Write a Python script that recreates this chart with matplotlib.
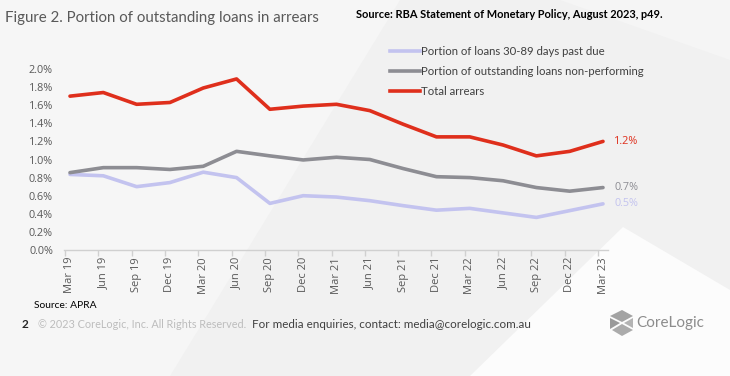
import matplotlib
matplotlib.use("Agg")
import matplotlib.pyplot as plt
from matplotlib.patches import Polygon
from matplotlib.lines import Line2D

quarters = ["Mar 19", "Jun 19", "Sep 19", "Dec 19", "Mar 20", "Jun 20", "Sep 20", "Dec 20",
            "Mar 21", "Jun 21", "Sep 21", "Dec 21", "Mar 22", "Jun 22", "Sep 22", "Dec 22", "Mar 23"]
past_due_30_89 = [0.835, 0.82, 0.70, 0.745, 0.86, 0.80, 0.515, 0.60, 0.585, 0.545, 0.49,
                  0.44, 0.46, 0.41, 0.36, 0.435, 0.51]
non_performing = [0.855, 0.91, 0.91, 0.89, 0.925, 1.09, 1.04, 0.995, 1.025, 1.00, 0.90,
                  0.81, 0.80, 0.765, 0.69, 0.65, 0.69]
total_arrears = [1.70, 1.74, 1.61, 1.63, 1.79, 1.89, 1.555, 1.59, 1.61, 1.54, 1.39,
                 1.25, 1.25, 1.16, 1.04, 1.09, 1.20]
y_ticks = [0.0, 0.2, 0.4, 0.6, 0.8, 1.0, 1.2, 1.4, 1.6, 1.8, 2.0]

RED = "#df2f1c"
GREY = "#8d8d93"
LAVENDER = "#c3c3ef"
SANS = ["Lato", "DejaVu Sans"]
W, H = 730, 376


def fx(px):
    return px / W


def fy(py):
    return 1 - py / H


fig = plt.figure(figsize=(7.3, 3.76), dpi=100)
fig.patch.set_facecolor("#f1f1f1")

# background shading (subtle slide artwork)
for pts, col in [
    ([(0, 0), (400, 0), (170, 376), (0, 376)], "#f6f6f6"),
    ([(623, 227), (730, 290), (730, 376), (470, 376)], "#fcfcfc"),
    ([(560, 0), (730, 0), (730, 60)], "#f5f5f5"),
]:
    fig.patches.append(Polygon([(fx(x), fy(y)) for x, y in pts], closed=True,
                               transform=fig.transFigure, facecolor=col,
                               edgecolor="none", zorder=-5))

ax = fig.add_axes([fx(64), fy(250), fx(608) - fx(64), fy(69) - fy(250)])
ax.set_facecolor("none")
ax.set_zorder(2)

x = list(range(len(quarters)))
ax.plot(x, past_due_30_89, color=LAVENDER, lw=2.6, solid_capstyle="round")
ax.plot(x, non_performing, color=GREY, lw=2.6, solid_capstyle="round")
ax.plot(x, total_arrears, color=RED, lw=2.6, solid_capstyle="round")

for series, col in [(total_arrears, RED), (non_performing, GREY), (past_due_30_89, LAVENDER)]:
    ax.annotate(f"{series[-1]:.1f}%", (x[-1], series[-1]), xytext=(8, 0),
                textcoords="offset points", va="center", ha="left",
                color=col, fontsize=7.8, family="Open Sans")

ax.set_xlim(-0.18, 16.15)
ax.set_ylim(0, 2.0)
ax.set_yticks(y_ticks)
ax.set_yticklabels([f"{v:.1f}%" for v in y_ticks])
ax.set_xticks(x)
ax.set_xticklabels(quarters, rotation=90)
ax.set_xticks([i - 0.15 for i in x], minor=True)
ax.tick_params(axis="x", which="major", length=0, pad=5, labelsize=8, colors="#595959")
ax.tick_params(axis="x", which="minor", length=4, color="#d0d0d0", width=1)
ax.tick_params(axis="y", length=0, pad=8, labelsize=7.8, colors="#595959")
for lab in ax.get_xticklabels() + ax.get_yticklabels():
    lab.set_family("Open Sans")
for s in ["top", "right", "left"]:
    ax.spines[s].set_visible(False)
ax.spines["bottom"].set_color("#d0d0d0")
ax.spines["bottom"].set_linewidth(1)

handles = [Line2D([], [], color=LAVENDER, lw=2.6),
           Line2D([], [], color=GREY, lw=2.6),
           Line2D([], [], color=RED, lw=2.6)]
labels = ["Portion of loans 30-89 days past due",
          "Portion of outstanding loans non-performing",
          "Total arrears"]
leg = fig.legend(handles, labels, loc="upper left", bbox_to_anchor=(fx(382), fy(38)),
                 frameon=False, prop={"family": SANS, "size": 8.2}, labelcolor="#404040",
                 handlelength=2.6, handletextpad=0.15, labelspacing=0.8, borderpad=0.2)
leg.set_zorder(3)

fig.text(fx(5), fy(18), "Figure 2. Portion of outstanding loans in arrears",
         family=SANS, fontsize=10.8, color="#595959", va="center")
fig.text(fx(356), fy(15), "Source: RBA Statement of Monetary Policy, August 2023, p49.",
         family=SANS, fontsize=7.9, fontweight="bold", color="#000000", va="center")
fig.text(fx(34), fy(305), "Source: APRA", family=SANS, fontsize=7.4,
         color="#000000", va="center")
fig.text(fx(22), fy(325), "2", family=SANS, fontsize=8.5, fontweight="bold",
         color="#262626", va="center")
fig.text(fx(38), fy(325), "\u00a9 2023 CoreLogic, Inc. All Rights Reserved.", family=SANS,
         fontsize=7.8, color="#bdbdbd", va="center")
fig.text(fx(252), fy(325), "For media enquiries, contact: media@corelogic.com.au",
         family=SANS, fontsize=8.4, color="#404040", va="center")

# CoreLogic logo
for pts, col in [
    ([(610, 316), (622, 310), (633, 316), (622, 322)], "#a3a3a3"),
    ([(610, 318), (620, 323), (610, 329)], "#9a9a9a"),
    ([(612, 330), (622, 324), (633, 330), (622, 336)], "#ababab"),
    ([(624, 323), (633, 318), (633, 328)], "#b3b3b3"),
]:
    fig.patches.append(Polygon([(fx(x0), fy(y0)) for x0, y0 in pts], closed=True,
                               transform=fig.transFigure, facecolor=col,
                               edgecolor="none", zorder=1))
fig.text(fx(636), fy(323), "CoreLogic", family=SANS, fontsize=11,
         color="#8c8c8c", va="center")

fig.savefig("out.png", dpi=100, facecolor=fig.get_facecolor())
